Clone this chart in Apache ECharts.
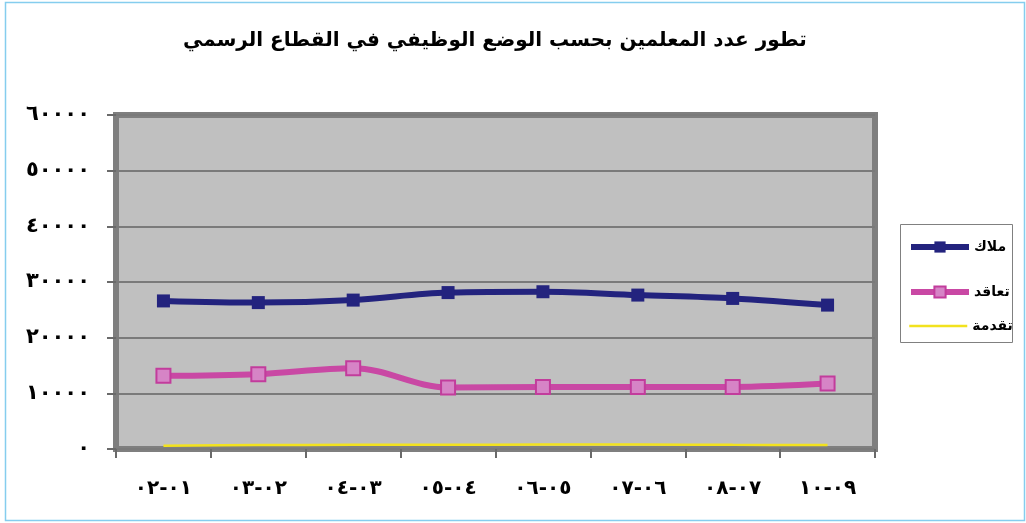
<!DOCTYPE html>
<html>
<head>
<meta charset="utf-8">
<script src="https://cdn.jsdelivr.net/npm/echarts@6/dist/echarts.min.js"></script>
<style>
  html, body { margin: 0; padding: 0; background: #fff; }
  #chart { width: 1026px; height: 523px; }
</style>
</head>
<body>
<div id="chart"></div>
<script>
// years shown as in the picture, LRM keeps the hyphen in place
const years = ['٠٢\u200E-\u200E٠١', '٠٣\u200E-\u200E٠٢', '٠٤\u200E-\u200E٠٣', '٠٥\u200E-\u200E٠٤',
               '٠٦\u200E-\u200E٠٥', '٠٧\u200E-\u200E٠٦', '٠٨\u200E-\u200E٠٧', '١٠\u200E-\u200E٠٩'];
const yTicks = ['٠', '١٠٠٠٠', '٢٠٠٠٠', '٣٠٠٠٠', '٤٠٠٠٠', '٥٠٠٠٠', '٦٠٠٠٠'];
const malak = [26600, 26300, 26750, 28100, 28250, 27650, 27050, 25850];
const taaqud = [13150, 13450, 14500, 11050, 11150, 11150, 11150, 11750];
const taqdima = [600, 700, 750, 750, 800, 800, 750, 700];

const font = 'DejaVu Sans';
const chart = echarts.init(document.getElementById('chart'));

function legendAt(item, top) {
    return {
        data: [item],
        left: 903,
        top: top,
        itemWidth: 58,
        itemHeight: 14,
        itemGap: 4,
        lineStyle: { width: 6 },
        textStyle: { color: '#000', fontSize: 14, fontWeight: 'bold', fontFamily: font }
    };
}

chart.setOption({
    backgroundColor: '#fff',
    animation: false,
    title: {
        text: 'تطور عدد المعلمين بحسب الوضع الوظيفي في القطاع الرسمي',
        left: 178,
        top: 26,
        textStyle: { color: '#000', fontSize: 20, fontWeight: 'bold', fontFamily: font }
    },
    graphic: [
        {   // outer blue frame
            type: 'rect',
            shape: { x: 5.5, y: 2.5, width: 1019, height: 518 },
            style: { fill: null, stroke: '#85cdee', lineWidth: 1.5 },
            z: 100
        },
        {   // legend box
            type: 'rect',
            shape: { x: 900.5, y: 224.5, width: 112, height: 118 },
            style: { fill: '#fff', stroke: '#808080', lineWidth: 1 },
            z: 1
        }
    ],
    legend: [
        legendAt({ name: 'ملاك' }, 235),
        legendAt({ name: 'تعاقد' }, 280),
        legendAt({
            name: 'تقدمة',
            itemStyle: { color: 'rgba(0,0,0,0)', borderColor: 'rgba(0,0,0,0)', borderWidth: 0 },
            lineStyle: { color: '#f2e21e', width: 2.5 }
        }, 314)
    ],
    grid: {
        left: 116,
        right: 151,
        top: 115,
        bottom: 74,
        show: true,
        backgroundColor: '#c0c0c0',
        borderColor: '#7f7f7f',
        borderWidth: 6
    },
    xAxis: {
        type: 'category',
        data: years,
        boundaryGap: true,
        axisLine: { show: false },
        axisTick: { show: true, length: 9, lineStyle: { color: '#6a6a6a', width: 2 } },
        axisLabel: { color: '#000', fontSize: 20, fontWeight: 'bold', fontFamily: font, margin: 30 },
        splitLine: { show: false }
    },
    yAxis: {
        type: 'value',
        min: 0,
        max: 60000,
        interval: 10000,
        axisLine: { show: false },
        axisTick: { show: true, length: 9, lineStyle: { color: '#6a6a6a', width: 2 } },
        axisLabel: {
            color: '#000', fontSize: 21, fontWeight: 'bold', fontFamily: font, margin: 26,
            formatter: v => yTicks[Math.round(v / 10000)]
        },
        splitLine: { lineStyle: { color: '#7a7a7a', width: 2 } }
    },
    series: [
        {
            name: 'ملاك',
            type: 'line',
            data: malak,
            smooth: 0.35,
            symbol: 'rect',
            symbolSize: 13,
            lineStyle: { color: '#23237e', width: 6 },
            itemStyle: { color: '#23237e' }
        },
        {
            name: 'تعاقد',
            type: 'line',
            data: taaqud,
            smooth: 0.35,
            symbol: 'rect',
            symbolSize: 14,
            lineStyle: { color: '#c948a4', width: 6 },
            itemStyle: { color: '#d684c6', borderColor: '#c23c9c', borderWidth: 2 }
        },
        {
            name: 'تقدمة',
            type: 'line',
            data: taqdima,
            smooth: 0.35,
            showSymbol: false,
            symbol: 'none',
            lineStyle: { color: '#f2e21e', width: 2.5 },
            itemStyle: { color: '#f2e21e' }
        }
    ]
});
</script>
</body>
</html>
